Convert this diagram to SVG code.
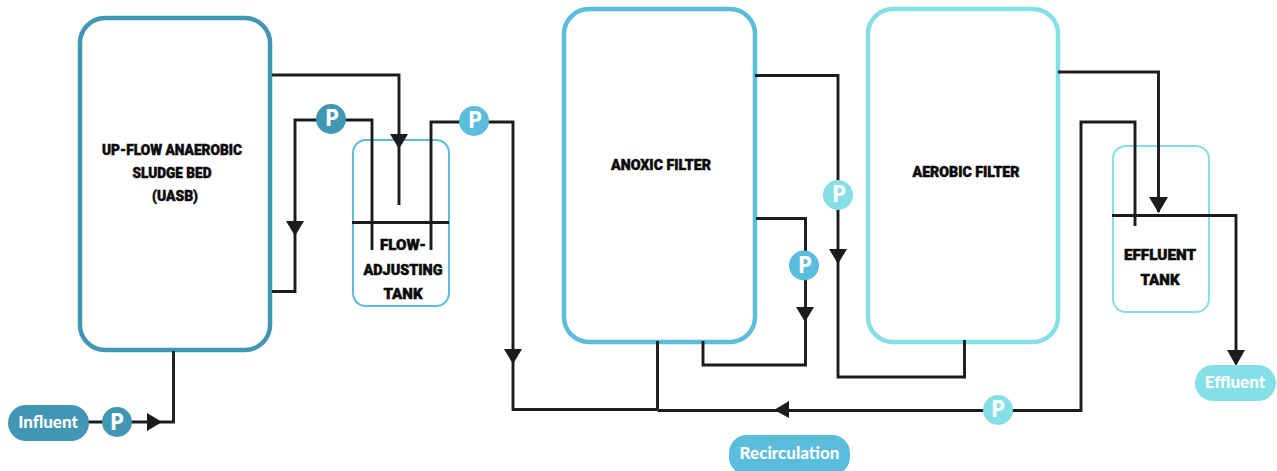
<svg xmlns="http://www.w3.org/2000/svg" width="1277" height="471" viewBox="0 0 1277 471">
<style>
.box{fill:#fff;stroke-width:4.500}
.tank{fill:none;stroke-width:2}
.line{fill:none;stroke:#1c1c1c;stroke-width:2.900;stroke-linejoin:miter}
.head{fill:#1c1c1c}
.dark{stroke:#4096b3}.dark-f{fill:#4096b3}
.mid{stroke:#5abddc}.mid-f{fill:#5abddc}
.light{stroke:#84e0e6}.light-f{fill:#84e0e6}
.lab{font-family:"Roboto","Liberation Sans",sans-serif;font-weight:900;font-size:15px;fill:#0a0a0a;text-anchor:middle;stroke:#0a0a0a;stroke-width:.5}
.pill{font-family:"Lato","Open Sans",sans-serif;font-weight:900;font-size:17px;fill:#fff;text-anchor:middle}
.p{font-family:"Open Sans","Liberation Sans",sans-serif;font-weight:700;font-size:23px;fill:#fff;text-anchor:middle}
</style>
<rect width="1277" height="471" fill="#fff"/>
<g id="uasb"><rect class="box dark" x="80" y="18" width="190" height="332" rx="25"/>
<text class="lab" x="172" y="155" textLength="140" lengthAdjust="spacingAndGlyphs">UP-FLOW ANAEROBIC</text>
<text class="lab" x="172" y="178" textLength="79" lengthAdjust="spacingAndGlyphs">SLUDGE BED</text>
<text class="lab" x="175" y="201" textLength="46" lengthAdjust="spacingAndGlyphs">(UASB)</text></g>
<g id="flow-tank"><rect class="tank mid" x="353" y="140" width="96" height="166" rx="13"/>
<text class="lab" x="403" y="250" textLength="46" lengthAdjust="spacingAndGlyphs">FLOW-</text>
<text class="lab" x="403" y="275" textLength="79" lengthAdjust="spacingAndGlyphs">ADJUSTING</text>
<text class="lab" x="403" y="299" textLength="39" lengthAdjust="spacingAndGlyphs">TANK</text></g>
<g id="anoxic"><rect class="box mid" x="564" y="9" width="191" height="333" rx="25"/>
<text class="lab" x="661" y="170" textLength="100" lengthAdjust="spacingAndGlyphs">ANOXIC FILTER</text></g>
<g id="aerobic"><rect class="box light" x="868" y="9" width="190" height="333" rx="25"/>
<text class="lab" x="966" y="177" textLength="107" lengthAdjust="spacingAndGlyphs">AEROBIC FILTER</text></g>
<g id="effluent-tank"><rect class="tank light" x="1113" y="146" width="96" height="166" rx="13"/>
<text class="lab" x="1160" y="260" textLength="72" lengthAdjust="spacingAndGlyphs">EFFLUENT</text>
<text class="lab" x="1160" y="285" textLength="39" lengthAdjust="spacingAndGlyphs">TANK</text></g>
<g id="connectors">
<path class="line" d="M272 75H399V205"/>
<path class="line" d="M272 291.500H295V120H372V250"/>
<path class="line" d="M352 222.500H449"/>
<path class="line" d="M431 250V122H513V409.500H657.500"/>
<path class="line" d="M657.500 341V409.500"/>
<path class="line" d="M657.500 410.500H1081V122H1135V226"/>
<path class="line" d="M755 75.500H838V377H964.500V340"/>
<path class="line" d="M756 218.500H805.500V365H703V341"/>
<path class="line" d="M1058 72H1158.500V212"/>
<path class="line" d="M1112 215.500H1236V352"/>
<path class="line" d="M88 422H173.500V351"/>
<polygon class="head" points="390,134 408,134 399,149"/>
<polygon class="head" points="286,221 304,221 295,236"/>
<polygon class="head" points="504,349 522,349 513,364"/>
<polygon class="head" points="829,249 847,249 838,264"/>
<polygon class="head" points="796,307 814,307 805,322"/>
<polygon class="head" points="1149,197 1168,197 1158.500,213"/>
<polygon class="head" points="1227,350 1245,350 1236,366"/>
<polygon class="head" points="789,401 789,418 774,410"/>
<polygon class="head" points="147,413 147,431 162,422"/>
</g>
<g id="pump-1"><circle class="dark-f" cx="117" cy="422" r="15"/><text class="p" x="117" y="429.500">P</text></g>
<g id="pump-2"><circle class="dark-f" cx="331" cy="119" r="15"/><text class="p" x="332" y="126">P</text></g>
<g id="pump-3"><circle class="mid-f" cx="474" cy="121" r="15"/><text class="p" x="475" y="128">P</text></g>
<g id="pump-4"><circle class="light-f" cx="838" cy="195" r="15"/><text class="p" x="839" y="202">P</text></g>
<g id="pump-5"><circle class="mid-f" cx="804" cy="265.500" r="15"/><text class="p" x="805" y="272.500">P</text></g>
<g id="pump-6"><circle class="light-f" cx="998" cy="410" r="15"/><text class="p" x="998" y="417">P</text></g>
<g id="influent"><rect class="dark-f" x="8" y="405" width="81" height="36" rx="18"/><text class="pill" x="48" y="428">Influent</text></g>
<g id="effluent"><rect class="light-f" x="1195" y="365" width="81" height="36" rx="18"/><text class="pill" x="1235" y="388">Effluent</text></g>
<g id="recirculation"><rect class="mid-f" x="729" y="435" width="121" height="40" rx="18"/><text class="pill" x="789.500" y="459">Recirculation</text></g>
</svg>
